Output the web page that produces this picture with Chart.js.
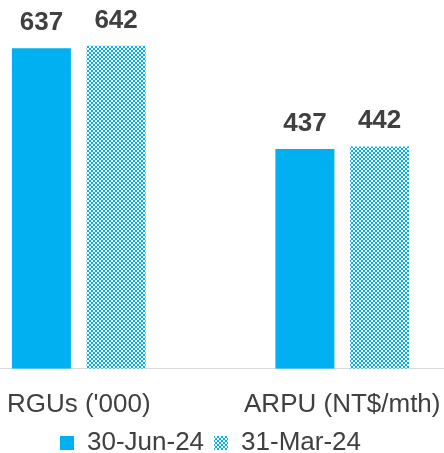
<!DOCTYPE html>
<html>
<head>
<meta charset="utf-8">
<script src="https://cdn.jsdelivr.net/npm/chart.js@4/dist/chart.umd.min.js"></script>
<style>
    html, body { margin: 0; padding: 0; background: #fff; overflow: hidden; }
    #wrap { position: absolute; left: -53px; top: 0; width: 527px; height: 453px; }
</style>
</head>
<body>
<div id="wrap"><canvas id="kpiChart"></canvas></div>
<script>
// Chart data
const categories = ["RGUs ('000)", 'ARPU (NT$/mth)'];
const seriesNames = ['30-Jun-24', '31-Mar-24'];
const jun24Values = [637, 437];
const mar24Values = [642, 442];

const BLUE = '#00b0f0';
const TEXT = '#404040';
const FONT = "'Liberation Sans', Arial, sans-serif";

// Small checker pattern for the previous quarter
function makeChecker() {
    const c = document.createElement('canvas');
    c.width = 4;
    c.height = 4;
    const g = c.getContext('2d');
    g.fillStyle = BLUE;
    g.fillRect(0, 0, 4, 4);
    g.fillStyle = '#ffffff';
    g.fillRect(0, 0, 2, 2);
    g.fillRect(2, 2, 2, 2);
    return g.createPattern(c, 'repeat');
}

// Value labels above each bar
const valueLabels = {
    id: 'valueLabels',
    afterDatasetsDraw(chart) {
        const ctx = chart.ctx;
        ctx.save();
        ctx.font = 'bold 26px ' + FONT;
        ctx.fillStyle = TEXT;
        ctx.textAlign = 'center';
        ctx.textBaseline = 'alphabetic';
        chart.data.datasets.forEach((ds, i) => {
            chart.getDatasetMeta(i).data.forEach((bar, j) => {
                ctx.fillText(ds.data[j], bar.x, bar.y - 18);
            });
        });
        ctx.restore();
    }
};

const checker = makeChecker();

new Chart(document.getElementById('kpiChart'), {
    type: 'bar',
    data: {
        labels: categories,
        datasets: [
            { label: seriesNames[0], data: jun24Values, backgroundColor: BLUE, borderWidth: 0 },
            { label: seriesNames[1], data: mar24Values, backgroundColor: checker, borderWidth: 0 }
        ]
    },
    options: {
        responsive: true,
        maintainAspectRatio: false,
        animation: false,
        layout: { padding: { top: 0, bottom: -13, left: 0, right: 0 } },
        categoryPercentage: 0.567,
        barPercentage: 0.79,
        scales: {
            x: {
                grid: { display: false, tickLength: 20 },
                border: { display: true, color: '#d9d9d9', width: 1 },
                ticks: { color: TEXT, font: { family: FONT, size: 26 }, padding: 0 }
            },
            y: { display: false, min: 0, max: 733 }
        },
        plugins: {
            legend: {
                position: 'bottom',
                labels: {
                    color: TEXT,
                    font: { family: FONT, size: 26 },
                    boxWidth: 14,
                    boxHeight: 14,
                    padding: 10
                }
            },
            tooltip: { enabled: false }
        }
    },
    plugins: [valueLabels]
});
</script>
</body>
</html>
